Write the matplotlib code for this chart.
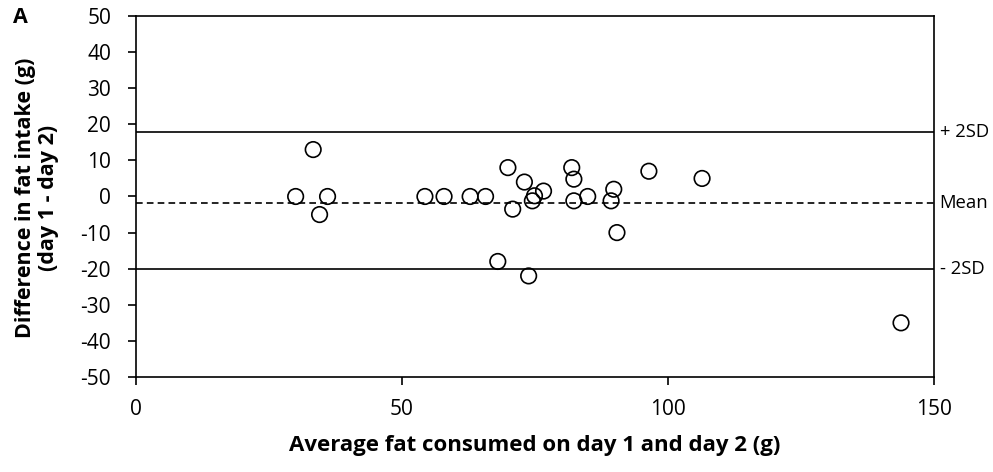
import matplotlib.pyplot as plt

plt.rcParams['font.family'] = ['Open Sans', 'DejaVu Sans']
plt.rcParams['axes.unicode_minus'] = False

# average fat consumed (g) and difference day1 - day2 (g)
avg_fat = [30, 33.3, 34.5, 36, 54.3, 57.9, 62.8, 65.7, 68, 69.9, 70.8, 73, 73.8,
           74.5, 74.9, 76.6, 81.9, 82.3, 82.3, 84.9, 89.3, 89.8, 90.4, 96.4,
           106.4, 143.8]
diff_fat = [0, 13, -5, 0, 0, 0, 0, 0, -18, 8, -3.5, 4, -22,
            -1.2, 0.2, 1.5, 8, 4.8, -1.2, 0, -1.2, 2, -10, 7,
            5, -35]

upper_sd = 17.8
mean_diff = -1.9
lower_sd = -20.1

fig = plt.figure(figsize=(9.93, 4.72), dpi=100)
ax = fig.add_axes([0.137, 0.2013, 0.8036, 0.7648])

ax.axhline(upper_sd, color='black', lw=1.2)
ax.axhline(mean_diff, color='black', lw=1.2, ls=(0, (4, 2.5)))
ax.axhline(lower_sd, color='black', lw=1.2)
ax.scatter(avg_fat, diff_fat, s=125, facecolors='none', edgecolors='black',
           linewidths=1.2, zorder=3, clip_on=False)

ax.set_xlim(0, 150)
ax.set_ylim(-50, 50)
ax.set_xticks([0, 50, 100, 150])
ax.set_yticks(range(-50, 51, 10))
ax.tick_params(labelsize=15, length=6, width=1.2, direction='out')
ax.tick_params(axis='x', pad=10)
ax.tick_params(axis='y', pad=12)
for s in ax.spines.values():
    s.set_linewidth(1.2)

fig.text(0.5385, 0.057, 'Average fat consumed on day 1 and day 2 (g)', fontsize=16,
         fontweight='bold', ha='center', va='center')
fig.text(0.037, 0.58, 'Difference in fat intake (g)\n(day 1 - day 2)', fontsize=15.5,
         fontweight='bold', ha='center', va='center', rotation=90, linespacing=1.1)

ax.text(1.007, upper_sd, '+ 2SD', transform=ax.get_yaxis_transform(),
        va='center', ha='left', fontsize=13.3)
ax.text(1.007, mean_diff, 'Mean', transform=ax.get_yaxis_transform(),
        va='center', ha='left', fontsize=13.3)
ax.text(1.007, lower_sd, '- 2SD', transform=ax.get_yaxis_transform(),
        va='center', ha='left', fontsize=13.3)
fig.text(0.013, 0.962, 'A', fontsize=15.5, fontweight='bold', va='center')

fig.savefig('out.png', dpi=100)
